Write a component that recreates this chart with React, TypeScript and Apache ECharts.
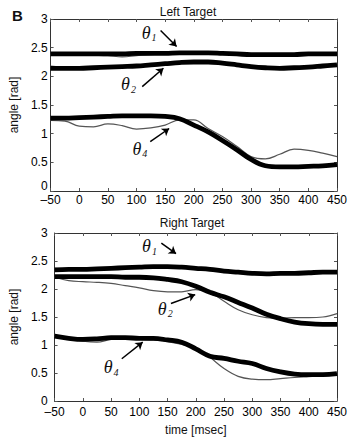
import React, { useEffect, useRef } from "react";
import * as echarts from "echarts";

const time = [-50, -25, 0, 25, 50, 75, 100, 125, 150, 175, 200, 225, 250, 275, 300, 325, 350, 375, 400, 425, 450];
const xTicks = { min: -50, max: 450, interval: 50 };
const yTicks = { min: 0, max: 3, interval: 0.5 };

// Left target
const leftTheta1Model = [2.39, 2.39, 2.39, 2.39, 2.39, 2.39, 2.4, 2.4, 2.4, 2.41, 2.41, 2.41, 2.4, 2.39, 2.38, 2.38, 2.38, 2.38, 2.39, 2.39, 2.39];
const leftTheta1Data = [2.38, 2.38, 2.38, 2.37, 2.36, 2.34, 2.36, 2.38, 2.39, 2.4, 2.41, 2.41, 2.4, 2.39, 2.38, 2.37, 2.37, 2.38, 2.38, 2.38, 2.38];
const leftTheta2Model = [2.14, 2.14, 2.14, 2.15, 2.16, 2.17, 2.18, 2.2, 2.22, 2.24, 2.25, 2.25, 2.23, 2.2, 2.17, 2.15, 2.14, 2.15, 2.16, 2.18, 2.2];
const leftTheta2Data = [2.18, 2.16, 2.15, 2.16, 2.17, 2.18, 2.19, 2.21, 2.23, 2.25, 2.26, 2.26, 2.24, 2.21, 2.18, 2.16, 2.15, 2.16, 2.17, 2.19, 2.21];
const leftTheta4Model = [1.27, 1.27, 1.28, 1.29, 1.3, 1.31, 1.31, 1.31, 1.3, 1.26, 1.15, 1.03, 0.88, 0.72, 0.55, 0.44, 0.42, 0.42, 0.43, 0.44, 0.46];
const leftTheta4Data = [1.23, 1.22, 1.13, 1.12, 1.17, 1.14, 1.08, 1.1, 1.15, 1.24, 1.24, 1.09, 0.95, 0.78, 0.6, 0.56, 0.64, 0.73, 0.71, 0.66, 0.6];

// Right target
const rightTheta1Model = [2.34, 2.35, 2.35, 2.36, 2.37, 2.38, 2.39, 2.4, 2.4, 2.39, 2.37, 2.35, 2.32, 2.3, 2.28, 2.27, 2.28, 2.28, 2.29, 2.3, 2.3];
const rightTheta1Data = [2.37, 2.35, 2.34, 2.35, 2.36, 2.37, 2.38, 2.39, 2.39, 2.38, 2.37, 2.35, 2.33, 2.3, 2.28, 2.27, 2.27, 2.28, 2.29, 2.3, 2.31];
const rightTheta2Model = [2.22, 2.22, 2.22, 2.22, 2.22, 2.21, 2.21, 2.2, 2.17, 2.13, 2.05, 1.94, 1.86, 1.76, 1.66, 1.55, 1.47, 1.41, 1.38, 1.37, 1.37];
const rightTheta2Data = [2.21, 2.15, 2.13, 2.12, 2.1, 2.06, 2.02, 1.97, 1.95, 1.95, 1.99, 1.94, 1.78, 1.63, 1.54, 1.49, 1.48, 1.49, 1.49, 1.5, 1.56];
const rightTheta4Model = [1.16, 1.12, 1.1, 1.11, 1.13, 1.13, 1.12, 1.12, 1.09, 1.05, 0.93, 0.8, 0.76, 0.71, 0.67, 0.58, 0.52, 0.48, 0.47, 0.47, 0.49];
const rightTheta4Data = [1.15, 1.12, 1.07, 1.05, 1.1, 1.11, 1.1, 1.09, 1.06, 1.01, 0.95, 0.78, 0.58, 0.44, 0.39, 0.38, 0.4, 0.42, 0.435, 0.45, 0.465];

// Annotations: [labelT, labelV, arrowStartT, arrowStartV, arrowEndT, arrowEndV, subscript]
const leftNotes = [
  [122, 2.76, 142, 2.8, 170, 2.52, "1"],
  [86, 1.86, 110, 1.82, 147, 2.14, "2"],
  [106, 0.74, 124, 0.86, 157, 1.09, "4"],
];
const rightNotes = [
  [118, 2.76, 139, 2.82, 165, 2.63, "1"],
  [146, 1.65, 156, 1.74, 199, 1.9, "2"],
  [50, 0.6, 69, 0.755, 106, 1.05, "4"],
];

const FONT = "Liberation Sans";

function pairs(vals: number[]) {
  return time.map((t, i) => [t, vals[i]]);
}

function axisCommon(showLabel: boolean, isX: boolean, margin: number, liftZero = false) {
  return {
    type: "value",
    ...(isX ? xTicks : yTicks),
    axisLine: { show: true, onZero: false, lineStyle: { color: "#333", width: 1 } },
    axisTick: { show: true, inside: true, length: 3, lineStyle: { color: "#555" } },
    splitLine: { show: false },
    axisLabel: {
      show: showLabel,
      fontFamily: FONT,
      fontSize: 12,
      color: "#000",
      margin,
      formatter: (v: number) => {
        const s = String(v).replace("-", "\u2013");
        return liftZero && v === 0 ? "{z|" + s + "}" : s;
      },
      rich: { z: { fontFamily: FONT, fontSize: 12, color: "#000", padding: [0, 0, 10, 0] } },
    },
  };
}

function buildSeries(axisIndex: number, sets: number[][], notes: any[]) {
  const out: any[] = [];
  const thin = [sets[1], sets[3], sets[5]];
  const thick = [sets[0], sets[2], sets[4]];
  thin.forEach((d) =>
    out.push({
      type: "line",
      xAxisIndex: axisIndex,
      yAxisIndex: axisIndex,
      data: pairs(d),
      smooth: 0.4,
      symbol: "none",
      lineStyle: { color: "#555", width: 1.2 },
      z: 2,
    })
  );
  thick.forEach((d, k) =>
    out.push({
      type: "line",
      xAxisIndex: axisIndex,
      yAxisIndex: axisIndex,
      data: pairs(d),
      smooth: 0.4,
      symbol: "none",
      lineStyle: { color: "#000", width: 4.8 },
      z: 3,
      ...(k === 0
        ? {
            markLine: {
              silent: true,
              symbol: ["none", "arrow"],
              symbolSize: 7,
              label: { show: false },
              lineStyle: { color: "#000", width: 1.5, type: "solid" },
              data: notes.map((n) => [
                { coord: [n[2], n[3]] },
                { coord: [n[4], n[5]] },
              ]),
            },
            markPoint: {
              silent: true,
              symbol: "rect",
              symbolSize: 1,
              itemStyle: { color: "rgba(0,0,0,0)" },
              label: {
                show: true,
                position: "inside",
                formatter: (p: any) => "{t|\u03b8}{s|" + p.name + "}",
                rich: {
                  t: { fontFamily: "Liberation Serif", fontStyle: "italic", fontSize: 18, color: "#111" },
                  s: { fontFamily: "Liberation Serif", fontStyle: "italic", fontSize: 10, color: "#111", padding: [10, 0, 0, 1] },
                },
              },
              data: notes.map((n) => ({ name: n[6], coord: [n[0], n[1]] })),
            },
          }
        : {}),
    })
  );
  return out;
}

export default function App() {
  const ref = useRef<HTMLDivElement>(null);
  useEffect(() => {
    if (!ref.current) return;
    const chart = echarts.init(ref.current, null, { renderer: "svg" });
    const grids = [
      { left: 45, top: 19, width: 292, height: 172 },
      { left: 50, top: 233, width: 287, height: 172 },
    ];
    const option: any = {
      animation: false,
      backgroundColor: "#fff",
      grid: grids,
      title: [
        { text: "B", left: 7, top: 3, textStyle: { fontFamily: FONT, fontSize: 15, fontWeight: "bold", color: "#111" } },
        { text: "Left Target", left: 183, top: 1, textAlign: "center", textStyle: { fontFamily: FONT, fontSize: 12, fontWeight: "normal", color: "#111" } },
        { text: "Right Target", left: 187, top: 212, textAlign: "center", textStyle: { fontFamily: FONT, fontSize: 12, fontWeight: "normal", color: "#111" } },
      ],
      xAxis: [
        { ...axisCommon(true, true, 3), gridIndex: 0, position: "bottom" },
        { ...axisCommon(false, true, 2), gridIndex: 0, position: "top" },
        {
          ...axisCommon(true, true, 5),
          gridIndex: 1,
          position: "bottom",
          name: "time [msec]",
          nameLocation: "middle",
          nameGap: 23,
          nameTextStyle: { fontFamily: FONT, fontSize: 12, color: "#111" },
        },
        { ...axisCommon(false, true, 2), gridIndex: 1, position: "top" },
      ],
      yAxis: [
        {
          ...axisCommon(true, false, 3, true),
          gridIndex: 0,
          position: "left",
          name: "angle [rad]",
          nameLocation: "middle",
          nameGap: 26,
          nameTextStyle: { fontFamily: FONT, fontSize: 12, color: "#111" },
        },
        { ...axisCommon(false, false, 2), gridIndex: 0, position: "right" },
        {
          ...axisCommon(true, false, 7),
          gridIndex: 1,
          position: "left",
          name: "angle [rad]",
          nameLocation: "middle",
          nameGap: 31,
          nameTextStyle: { fontFamily: FONT, fontSize: 12, color: "#111" },
        },
        { ...axisCommon(false, false, 2), gridIndex: 1, position: "right" },
      ],
      series: [
        ...buildSeries(0, [leftTheta1Model, leftTheta1Data, leftTheta2Model, leftTheta2Data, leftTheta4Model, leftTheta4Data], leftNotes),
        ...buildSeries(2, [rightTheta1Model, rightTheta1Data, rightTheta2Model, rightTheta2Data, rightTheta4Model, rightTheta4Data], rightNotes),
      ],
    };
    chart.setOption(option);
    return () => chart.dispose();
  }, []);
  return (
    <div
      ref={ref}
      style={{ position: "fixed", left: 0, top: 0, width: 358, height: 437, background: "#fff" }}
    />
  );
}
